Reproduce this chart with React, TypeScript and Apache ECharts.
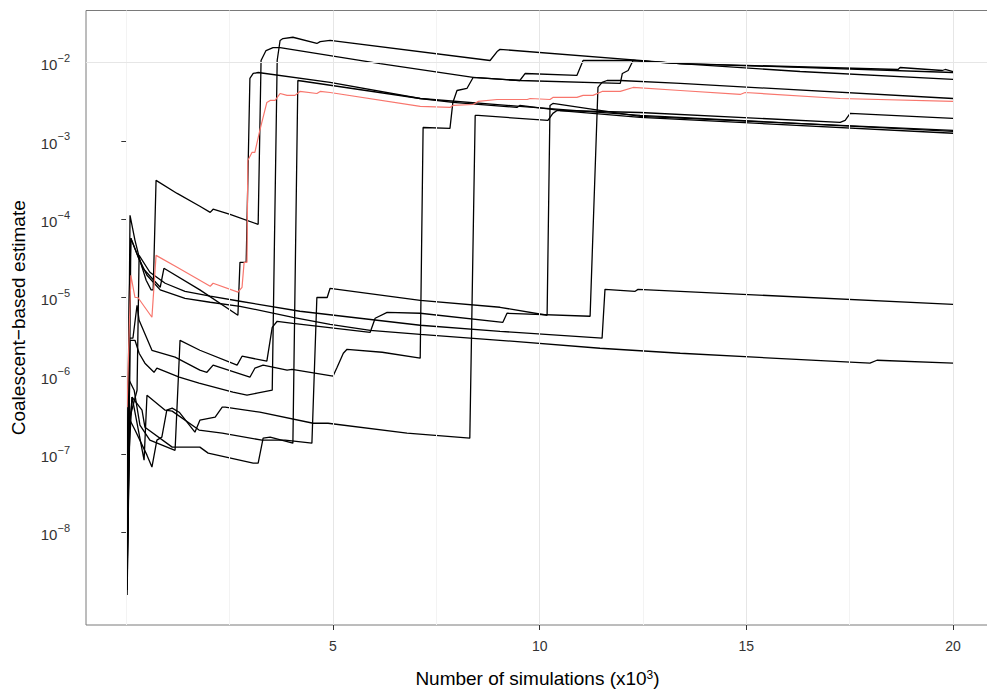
import React, { useEffect, useRef } from "react";
import * as echarts from "echarts";

// ---- axis breaks ----
const xMajorBreaks = [5, 10, 15, 20];
const xMinorBreaks = [0, 2.5, 7.5, 12.5, 17.5];
const yMajorBreaks = [1e-2, 1e-3, 1e-4, 1e-5, 1e-6, 1e-7, 1e-8];
const yMinorBreaks = [5.5e-3, 5.5e-4, 5.5e-5, 5.5e-6, 5.5e-7, 5.5e-8, 5.5e-9, 1e-9];
const thresholdValue = 4.4e-4;

// ---- runs: [simulations (x10^3), estimate] ----
const run01 = [
  [0.02, 6.9e-9], [0.09, 1.12e-4], [0.21, 5.37e-5], [0.33, 2.98e-5], [0.48, 1.66e-5], [0.6, 1.25e-5],
  [0.65, 1.25e-5], [0.72, 3.13e-4], [1.23, 2.13e-4], [1.78, 1.46e-4], [2.03, 1.22e-4], [2.1, 1.34e-4],
  [2.51, 1.15e-4], [3.19, 8.58e-5], [3.26, 1.06e-2], [3.38, 1.42e-2], [3.55, 1.55e-2], [3.72, 1.55e-2],
  [6.14, 9.7e-3], [8.39, 6.44e-3], [9.52, 5.89e-3], [11.95, 5.4e-3], [12.0, 7.24e-3], [12.14, 7.9e-3],
  [12.26, 1.06e-2], [13.4, 9.7e-3], [16.3, 7.67e-3], [20, 6.07e-3],
];
const run02 = [
  [0.02, 1.84e-9], [0.07, 2.71e-7], [0.11, 5.69e-5], [0.4, 2.36e-5], [0.82, 1.35e-5], [0.91, 2.36e-5],
  [1.78, 1.25e-5], [2.7, 5.93e-6], [2.75, 2.81e-5], [2.9, 2.81e-5], [2.99, 6.25e-3], [3.07, 7.24e-3],
  [3.19, 7.45e-3], [4.93, 5.56e-3], [7.11, 3.47e-3], [7.9, 3.09e-3], [9.45, 2.67e-3], [9.52, 2.83e-3],
  [10.49, 2.44e-3], [12.43, 2.3e-3], [17.27, 1.72e-3], [17.39, 1.82e-3], [17.51, 2.24e-3], [20, 1.93e-3],
];
const run03 = [
  [0.02, 4.66e-8], [0.07, 9.2e-6], [0.11, 5.69e-5], [0.28, 3.35e-5], [0.5, 1.92e-5], [0.82, 1.25e-5],
  [1.42, 9.77e-6], [2.03, 8.69e-6], [2.75, 7.72e-6], [4.03, 5.59e-6], [4.93, 4.55e-6], [5.9, 3.81e-6],
  [7.11, 3.39e-6], [9.04, 2.84e-6], [11.46, 2.25e-6], [13.4, 1.94e-6], [17.99, 1.45e-6], [18.16, 1.58e-6],
  [20, 1.45e-6],
];
const run04 = [
  [0.02, 1.44e-8], [0.07, 2.71e-7], [0.26, 6.55e-7], [0.31, 3.45e-5], [0.57, 2.1e-5], [0.94, 1.52e-5],
  [1.42, 1.2e-5], [2.03, 1.04e-5], [2.75, 8.95e-6], [4.2, 6.67e-6], [5.65, 5.43e-6], [7.11, 4.42e-6],
  [9.04, 3.7e-6], [11.51, 3.02e-6], [11.58, 1.27e-5], [12.31, 1.2e-5], [12.38, 1.27e-5], [20, 8.18e-6],
];
const run05 = [
  [0.02, 2.24e-8], [0.07, 8.78e-7], [0.19, 6.55e-7], [0.33, 2.34e-7], [0.57, 1.51e-7], [0.94, 1.26e-7],
  [1.18, 1.12e-7], [1.3, 2.84e-6], [1.78, 2.12e-6], [2.68, 1.37e-6], [2.8, 1.78e-6], [3.4, 1.54e-6],
  [3.53, 4.16e-6], [3.65, 4.97e-6], [4.03, 4.68e-6], [5.9, 3.59e-6], [6.02, 5.43e-6], [6.31, 6.47e-6],
  [7.11, 6.29e-6], [9.11, 4.82e-6], [9.21, 6.29e-6], [11.22, 5.76e-6], [11.41, 4.8e-3], [11.51, 5.56e-3],
  [11.63, 5.89e-3], [11.95, 5.89e-3], [13.4, 5.4e-3], [20, 3.47e-3],
];
const run06 = [
  [0.02, 6.25e-8], [0.07, 3.02e-6], [0.16, 3.02e-6], [0.26, 7.95e-6], [0.31, 5.11e-6], [0.62, 2.12e-6],
  [1.18, 1.73e-6], [1.78, 1.18e-6], [1.95, 1.11e-6], [2.1, 1.37e-6], [2.99, 9.6e-7], [3.11, 1.25e-6],
  [3.31, 1.37e-6], [3.89, 1.18e-6], [4.01, 1.21e-6], [5.0, 9.88e-7], [5.1, 1.29e-6], [5.25, 1.94e-6],
  [5.34, 2.18e-6], [6.19, 2.0e-6], [7.11, 1.68e-6], [7.18, 1.48e-3], [7.83, 1.44e-3], [7.9, 3.09e-3],
  [8.0, 4.39e-3], [8.24, 4.66e-3], [8.39, 6.44e-3], [9.52, 5.89e-3], [9.65, 7.24e-3], [10.9, 6.83e-3],
  [11.05, 1.06e-2], [12.26, 1.06e-2], [13.4, 9.7e-3], [20, 7.45e-3],
];
const run07 = [
  [0.02, 2.47e-9], [0.09, 2.84e-6], [0.21, 2.84e-6], [0.31, 1.94e-6], [0.45, 1.45e-6], [0.67, 1.11e-6],
  [0.74, 1.25e-6], [0.86, 1.18e-6], [1.28, 9.6e-7], [1.76, 8.04e-7], [2.58, 6.18e-7], [2.92, 5.66e-7],
  [3.16, 6.0e-7], [3.53, 6.55e-7], [3.65, 1.06e-2], [3.72, 1.91e-2], [3.79, 2.02e-2], [4.03, 2.1e-2],
  [4.61, 1.75e-2], [4.69, 1.85e-2], [4.93, 1.91e-2], [8.8, 1.06e-2], [8.97, 1.38e-2], [9.04, 1.47e-2],
  [13.4, 9.7e-3], [18.67, 8.14e-3], [18.72, 8.63e-3], [19.74, 7.9e-3], [19.81, 8.14e-3], [20, 7.67e-3],
];
const run08 = [
  [0.02, 1.59e-9], [0.07, 1.12e-7], [0.14, 5.34e-7], [0.38, 3.64e-7], [0.45, 2.21e-7], [1.11, 1.23e-7],
  [1.78, 1.23e-7], [1.98, 1.03e-7], [3.07, 7.67e-8], [3.19, 7.67e-8], [3.31, 1.6e-7], [3.48, 1.65e-7],
  [4.03, 1.38e-7], [4.15, 5.89e-3], [4.32, 5.72e-3], [7.11, 3.47e-3], [9.52, 2.75e-3], [12.43, 2.11e-3],
  [20, 1.32e-3],
];
const run09 = [
  [0.02, 2.86e-9], [0.07, 2.03e-7], [0.14, 5.34e-7], [0.43, 8.38e-8], [0.5, 5.66e-7], [0.94, 3.64e-7],
  [1.11, 3.54e-7], [1.76, 2.03e-7], [2.32, 1.86e-7], [3.28, 1.51e-7], [3.84, 1.51e-7], [4.49, 1.38e-7],
  [4.61, 1.0e-5], [4.86, 1.0e-5], [4.93, 1.31e-5], [7.11, 9.2e-6], [9.04, 7.5e-6], [10.18, 5.93e-6],
  [10.25, 2.83e-3], [10.32, 3.0e-3], [12.43, 2.05e-3], [20, 1.36e-3],
];
const run10 = [
  [0.02, 4.44e-9], [0.09, 2.71e-7], [0.21, 2.03e-7], [0.5, 9.71e-8], [0.62, 6.83e-8], [0.74, 1.51e-7],
  [0.86, 1.65e-7], [0.98, 3.64e-7], [1.11, 3.87e-7], [1.28, 3.43e-7], [1.66, 1.91e-7], [1.78, 2.71e-7],
  [2.15, 2.96e-7], [2.32, 3.98e-7], [2.39, 3.98e-7], [3.23, 3.43e-7], [4.52, 2.48e-7], [4.88, 2.48e-7],
  [6.79, 1.86e-7], [8.31, 1.6e-7], [8.44, 2.11e-3], [8.51, 2.11e-3], [10.2, 1.82e-3], [10.32, 2.24e-3],
  [10.42, 2.44e-3], [12.43, 1.99e-3], [20, 1.25e-3],
];
const highlightedRun = [
  [0.02, 3.98e-7], [0.07, 3.81e-6], [0.11, 1.92e-5], [0.21, 1.0e-5], [0.28, 1.0e-5], [0.62, 5.59e-6],
  [0.72, 3.45e-5], [1.23, 2.43e-5], [2.03, 1.39e-5], [2.1, 1.52e-5], [2.7, 1.17e-5], [2.8, 1.35e-5],
  [2.85, 2.81e-5], [2.92, 2.81e-5], [2.94, 5.62e-4], [3.04, 7.1e-4], [3.11, 7.1e-4], [3.23, 1.36e-3],
  [3.4, 3.09e-3], [3.48, 3.28e-3], [3.6, 3.28e-3], [3.72, 4.02e-3], [3.89, 3.8e-3], [4.08, 3.8e-3],
  [4.2, 4.27e-3], [4.61, 4.02e-3], [4.69, 4.27e-3], [4.93, 4.14e-3], [7.11, 2.75e-3], [7.83, 2.67e-3],
  [7.9, 2.83e-3], [8.39, 2.91e-3], [8.51, 3.18e-3], [8.97, 3.37e-3], [9.7, 3.37e-3], [9.77, 3.47e-3],
  [10.25, 3.37e-3], [10.32, 3.58e-3], [10.9, 3.58e-3], [11.05, 3.8e-3], [11.29, 3.8e-3], [11.51, 4.27e-3],
  [11.95, 4.27e-3], [12.26, 4.8e-3], [13.4, 4.39e-3], [14.85, 3.91e-3], [14.97, 4.14e-3], [17.27, 3.47e-3],
  [20, 3.18e-3],
];

const blackRuns = [run01, run02, run03, run04, run05, run06, run07, run08, run09, run10];

const FONT = "Liberation Sans, Arial, Helvetica, sans-serif";
const MINUS = "\u2212";

export default function App() {
  const ref = useRef<HTMLDivElement>(null);

  useEffect(() => {
    document.body.style.margin = "0";
    const chart = echarts.init(ref.current!, null, { renderer: "svg" });

    const runSeries = blackRuns.map((d, i) => ({
      name: "run" + (i + 1),
      type: "line",
      data: d,
      symbol: "none",
      showSymbol: false,
      silent: true,
      z: 3,
      lineStyle: { color: "#000000", width: 1.3 },
    }));

    const option: any = {
      animation: false,
      backgroundColor: "#ffffff",
      textStyle: { fontFamily: FONT },
      grid: {
        left: 86,
        right: -2,
        top: 10.5,
        bottom: 68,
        show: true,
        backgroundColor: "#ffffff",
        borderColor: "#7a7a7a",
        borderWidth: 1,
        containLabel: false,
        outerBoundsMode: "none",
      },
      xAxis: {
        type: "value",
        min: -0.975,
        max: 20.87,
        name: "Number of simulations (x10{s|3})",
        nameLocation: "middle",
        nameGap: 44,
        nameTextStyle: {
          fontSize: 19,
          color: "#000",
          fontFamily: FONT,
          rich: {
            s: { fontSize: 12, color: "#000", fontFamily: FONT, verticalAlign: "top", lineHeight: 12 },
          },
        },
        splitLine: { show: false },
        axisLine: { show: false },
        axisTick: { show: true, length: 5, customValues: xMajorBreaks, lineStyle: { color: "#333" } },
        axisLabel: {
          customValues: xMajorBreaks,
          margin: 14,
          fontSize: 14,
          color: "#333",
          fontFamily: FONT,
          formatter: (v: number) => (xMajorBreaks.indexOf(v) >= 0 ? String(v) : ""),
        },
      },
      yAxis: {
        type: "log",
        logBase: 10,
        min: 6.59e-10,
        max: 0.0461,
        name: "Coalescent" + MINUS + "based estimate",
        nameLocation: "middle",
        nameGap: 58,
        nameTextStyle: { fontSize: 19, color: "#000", fontFamily: FONT },
        splitLine: { show: false },
        axisLine: { show: false },
        axisTick: { show: true, length: 5, customValues: yMajorBreaks, lineStyle: { color: "#333" } },
        axisLabel: {
          margin: 16,
          fontSize: 15,
          color: "#333",
          fontFamily: FONT,
          formatter: (v: number) => {
            const l = Math.log10(v);
            const e = Math.round(l);
            if (Math.abs(l - e) > 0.01 || e < -8 || e > -2) return "";
            return "{n|10}{s|" + MINUS + Math.abs(e) + "}";
          },
          rich: {
            n: { fontSize: 15, color: "#333", fontFamily: FONT, lineHeight: 20, verticalAlign: "bottom" },
            s: { fontSize: 11, color: "#333", fontFamily: FONT, lineHeight: 12, verticalAlign: "top" },
          },
        },
      },
      series: [
        {
          name: "minorGrid",
          type: "line",
          data: [],
          silent: true,
          z: 1,
          markLine: {
            silent: true,
            symbol: ["none", "none"],
            label: { show: false },
            emphasis: { disabled: true },
            lineStyle: { color: "#f3f3f3", width: 1, type: "solid" },
            data: [
              ...xMinorBreaks.map((v) => ({ xAxis: v })),
              ...yMinorBreaks.map((v) => ({ yAxis: v })),
            ],
          },
        },
        {
          name: "majorGrid",
          type: "line",
          data: [],
          silent: true,
          z: 1,
          markLine: {
            silent: true,
            symbol: ["none", "none"],
            label: { show: false },
            emphasis: { disabled: true },
            lineStyle: { color: "#e6e6e6", width: 1, type: "solid" },
            data: [
              ...xMajorBreaks.map((v) => ({ xAxis: v })),
              ...yMajorBreaks.map((v) => ({ yAxis: v })),
            ],
          },
        },
        ...runSeries,
        {
          name: "highlighted",
          type: "line",
          data: highlightedRun,
          symbol: "none",
          showSymbol: false,
          silent: true,
          z: 4,
          lineStyle: { color: "#f8766d", width: 1.2 },
        },
        {
          name: "threshold",
          type: "line",
          data: [],
          silent: true,
          z: 5,
          markLine: {
            silent: true,
            symbol: ["none", "none"],
            label: { show: false },
            emphasis: { disabled: true },
            lineStyle: { color: "#000", width: 1.3, type: [3, 2.5] },
            data: [{ yAxis: thresholdValue }],
          },
        },
      ],
    };

    chart.setOption(option);
    return () => chart.dispose();
  }, []);

  return <div ref={ref} style={{ width: 987, height: 693 }} />;
}
